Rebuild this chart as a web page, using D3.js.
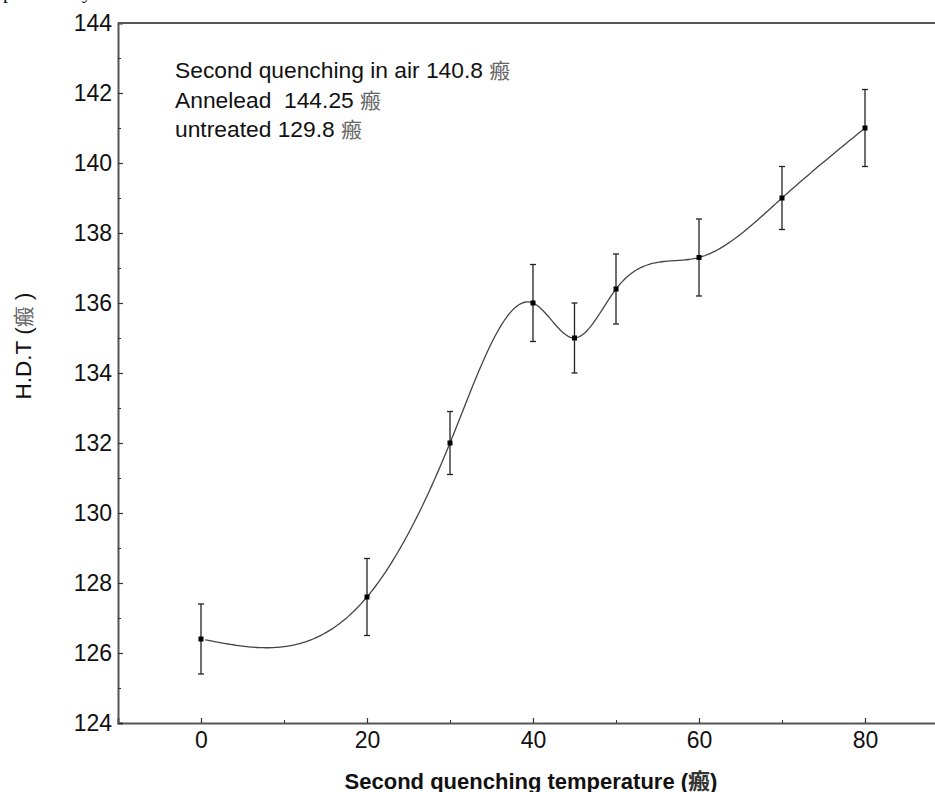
<!DOCTYPE html>
<html><head><meta charset="utf-8">
<script src="https://cdn.jsdelivr.net/npm/d3@7"></script>
<style>
html,body{margin:0;padding:0;background:#fff;overflow:hidden;}
svg{display:block;}
text{white-space:pre;}
</style></head>
<body>
<script>
const xValues = [0, 20, 30, 40, 45, 50, 60, 70, 80];
const hdtValues = [126.4, 127.6, 132.0, 136.0, 135.0, 136.4, 137.3, 139.0, 141.0];
const errValues = [1.0, 1.1, 0.9, 1.1, 1.0, 1.0, 1.1, 0.9, 1.1];
const xTicks = [0, 20, 40, 60, 80];
const xMinorTicks = [10, 30, 50, 70];
const yTicks = [124, 126, 128, 130, 132, 134, 136, 138, 140, 142, 144];
const yMinorTicks = [125, 127, 129, 131, 133, 135, 137, 139, 141, 143];
const noteLines = ["Second quenching in air 140.8 ", "Annelead  144.25 ", "untreated 129.8 "];
const unitChar = "瘢";
const xTitle = "Second quenching temperature (";
const yTitle = "H.D.T (";

const W = 935, H = 792;
const svg = d3.select("body").append("svg").attr("width", W).attr("height", H);

const x = d3.scaleLinear().domain([-10, 90]).range([118, 948]);
const y = d3.scaleLinear().domain([124, 144]).range([723, 23]);

const latin = "Liberation Sans, Arial, sans-serif";
const cjk = "'Noto Sans CJK SC', 'Noto Sans CJK TC', sans-serif";

// cropped text fragment at top
svg.append("text").attr("x", 3).attr("y", -2).attr("font-family", "Liberation Serif, serif")
  .attr("font-size", 20).attr("fill", "#111").text("p");
svg.append("text").attr("x", 82).attr("y", -2).attr("font-family", "Liberation Serif, serif")
  .attr("font-size", 20).attr("fill", "#111").text("y");

// axes
const axisColor = "#555";
const gx = svg.append("g").attr("transform", `translate(0,${y(124)})`)
  .call(d3.axisBottom(x).tickValues(xTicks).tickSize(-5).tickPadding(12).tickFormat(d3.format("d")));
gx.select(".domain").attr("stroke", axisColor).attr("stroke-width", 2);
gx.selectAll(".tick line").attr("stroke", "#333").attr("stroke-width", 1.2);
gx.selectAll(".tick text").attr("font-family", latin).attr("font-size", 23).attr("fill", "#111")
  .attr("dy", "0.71em").attr("y", 9);
const gxm = svg.append("g").attr("transform", `translate(0,${y(124)})`)
  .call(d3.axisBottom(x).tickValues(xMinorTicks).tickSize(-3).tickFormat(""));
gxm.select(".domain").remove();
gxm.selectAll(".tick line").attr("stroke", "#333");

const gy = svg.append("g").attr("transform", `translate(${x(-10)},0)`)
  .call(d3.axisLeft(y).tickValues(yTicks).tickSize(-5).tickPadding(6).tickFormat(d3.format("d")));
gy.select(".domain").attr("stroke", axisColor).attr("stroke-width", 2);
gy.selectAll(".tick line").attr("stroke", "#333").attr("stroke-width", 1.2);
gy.selectAll(".tick text").attr("font-family", latin).attr("font-size", 23).attr("fill", "#111");
const gym = svg.append("g").attr("transform", `translate(${x(-10)},0)`)
  .call(d3.axisLeft(y).tickValues(yMinorTicks).tickSize(-3).tickFormat(""));
gym.select(".domain").remove();
gym.selectAll(".tick line").attr("stroke", "#333");

// top frame line
svg.append("line").attr("x1", x(-10)).attr("x2", W).attr("y1", y(144)).attr("y2", y(144))
  .attr("stroke", axisColor).attr("stroke-width", 2);

// cubic spline through the data (rendering helper): clamped start slope, natural end
function splineSampler(xs, ys, startSlope) {
  const n = xs.length, h = [];
  for (let i = 0; i < n - 1; i++) h.push(xs[i + 1] - xs[i]);
  const A = Array.from({length: n}, () => new Array(n).fill(0));
  const r = new Array(n).fill(0);
  A[0][0] = 2 * h[0]; A[0][1] = h[0];
  r[0] = 6 * ((ys[1] - ys[0]) / h[0] - startSlope);
  for (let i = 1; i < n - 1; i++) {
    A[i][i - 1] = h[i - 1]; A[i][i] = 2 * (h[i - 1] + h[i]); A[i][i + 1] = h[i];
    r[i] = 6 * ((ys[i + 1] - ys[i]) / h[i] - (ys[i] - ys[i - 1]) / h[i - 1]);
  }
  A[n - 1][n - 1] = 1; r[n - 1] = 0;
  for (let c = 0; c < n; c++) {
    let p = c;
    for (let k = c + 1; k < n; k++) if (Math.abs(A[k][c]) > Math.abs(A[p][c])) p = k;
    [A[c], A[p]] = [A[p], A[c]]; [r[c], r[p]] = [r[p], r[c]];
    for (let k = c + 1; k < n; k++) {
      const f = A[k][c] / A[c][c];
      for (let j = c; j < n; j++) A[k][j] -= f * A[c][j];
      r[k] -= f * r[c];
    }
  }
  const M = new Array(n).fill(0);
  for (let c = n - 1; c >= 0; c--) {
    let s = r[c];
    for (let j = c + 1; j < n; j++) s -= A[c][j] * M[j];
    M[c] = s / A[c][c];
  }
  return function(xv) {
    let i = 0;
    while (i < n - 2 && xv > xs[i + 1]) i++;
    const t = xv - xs[i], hh = h[i];
    const b = (ys[i + 1] - ys[i]) / hh - hh * (2 * M[i] + M[i + 1]) / 6;
    return ys[i] + b * t + M[i] / 2 * t * t + (M[i + 1] - M[i]) / (6 * hh) * t * t * t;
  };
}
const S = splineSampler(xValues, hdtValues, -0.045);
const xs = d3.range(xValues[0] + 0.5, xValues[xValues.length - 1] + 0.001, 0.25);
const line = d3.line().x(d => x(d)).y(d => y(S(d)));
svg.append("path").attr("d", line(xs)).attr("fill", "none").attr("stroke", "#444").attr("stroke-width", 1.3);

// error bars
const eb = svg.append("g").attr("stroke", "#222").attr("stroke-width", 1.3);
xValues.forEach((v, i) => {
  const cx = x(v), t = y(hdtValues[i] + errValues[i]), b = y(hdtValues[i] - errValues[i]);
  eb.append("line").attr("x1", cx).attr("x2", cx).attr("y1", t).attr("y2", b);
  eb.append("line").attr("x1", cx - 3).attr("x2", cx + 3).attr("y1", t).attr("y2", t);
  eb.append("line").attr("x1", cx - 3).attr("x2", cx + 3).attr("y1", b).attr("y2", b);
});
svg.append("g").selectAll("rect").data(xValues).join("rect")
  .attr("x", d => x(d) - 2.5).attr("y", (d, i) => y(hdtValues[i]) - 2.5)
  .attr("width", 5).attr("height", 5).attr("fill", "#000");

// annotation
const note = svg.append("g");
noteLines.forEach((t, i) => {
  const tx = note.append("text").attr("x", 175).attr("y", 78 + i * 29.5)
    .attr("font-family", latin).attr("font-size", 22.8).attr("fill", "#111");
  tx.append("tspan").text(t);
  tx.append("tspan").attr("font-family", cjk).attr("fill", "#666").attr("font-size", 21).text(unitChar);
});

// x title
const xt = svg.append("text").attr("x", 531).attr("y", 789).attr("text-anchor", "middle")
  .attr("font-family", latin).attr("font-size", 22).attr("font-weight", "bold").attr("fill", "#111");
xt.append("tspan").text(xTitle);
xt.append("tspan").attr("font-family", cjk).attr("font-weight", "bold").attr("fill", "#333").text(unitChar);
xt.append("tspan").text(")");

// y title
const yt = svg.append("text").attr("transform", "translate(31,346) rotate(-90)").attr("text-anchor", "middle")
  .attr("font-family", latin).attr("font-size", 22.5).attr("fill", "#111");
yt.append("tspan").text(yTitle);
yt.append("tspan").attr("font-family", cjk).attr("fill", "#666").attr("font-size", 21).text(unitChar);
yt.append("tspan").text(" )");
</script>
</body></html>
